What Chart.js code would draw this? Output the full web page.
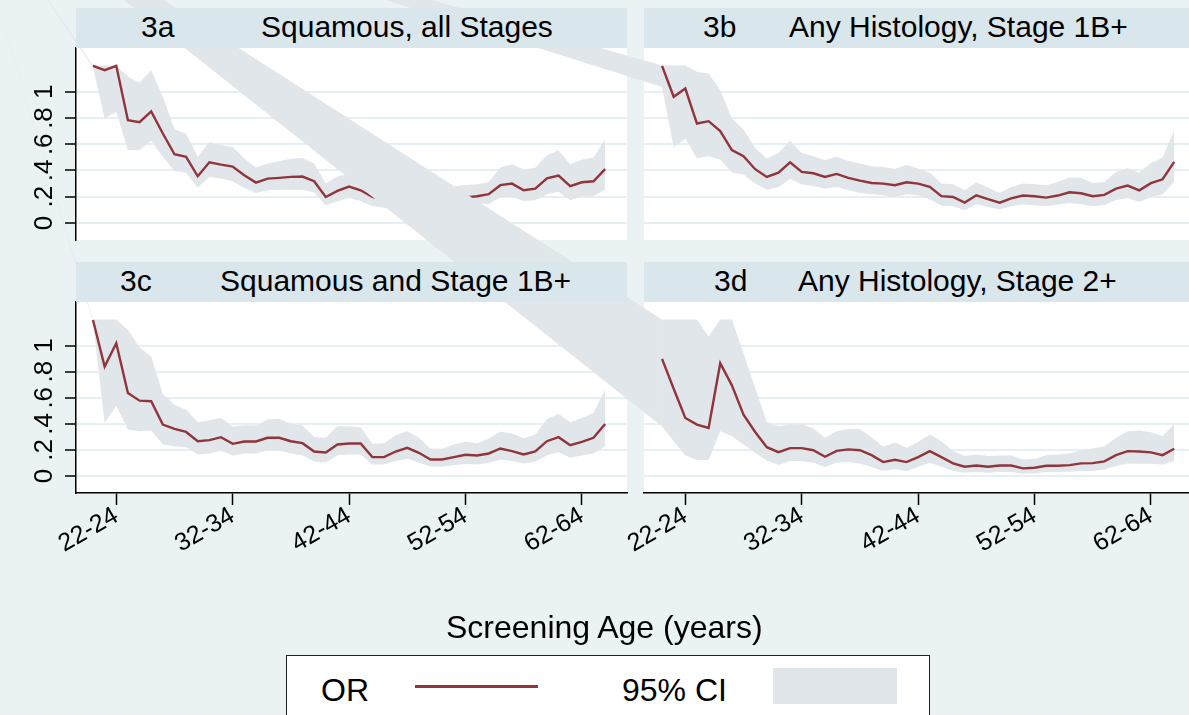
<!DOCTYPE html>
<html>
<head>
<meta charset="utf-8">
<title>Screening age OR panels</title>
<script src="https://cdn.jsdelivr.net/npm/chart.js@4.4.1/dist/chart.umd.min.js"></script>
<style>
  body { margin: 0; background: #eaf2f3; font-family: "Liberation Sans", Arial, sans-serif; }
  #fig { position: relative; width: 1189px; height: 715px; overflow: hidden; background: #eaf2f3; }
  #fig canvas { position: absolute; left: 0; top: 0; }
  .bar { position: absolute; height: 40px; background: #d9e6eb; z-index: 10; }
  .bar span { position: absolute; top: 0; line-height: 38px; font-size: 30px; color: #000; white-space: nowrap; }
  .txt { position: absolute; color: #000; white-space: nowrap; z-index: 10; }
  #legend { position: absolute; left: 286px; top: 655px; width: 642px; height: 80px; background: #fff; border: 1.5px solid #222; z-index: 10; }
</style>
</head>
<body>
<div id="fig">
  <canvas id="c3a" width="1189" height="715"></canvas>
  <canvas id="c3b" width="1189" height="715"></canvas>
  <canvas id="c3c" width="1189" height="715"></canvas>
  <canvas id="c3d" width="1189" height="715"></canvas>

  <div class="bar" style="left:76px; top:8px; width:551px;"><span style="left:65px">3a</span><span style="left:185px">Squamous, all Stages</span></div>
  <div class="bar" style="left:644px; top:8px; width:545px;"><span style="left:59px">3b</span><span style="left:145px">Any Histology, Stage 1B+</span></div>
  <div class="bar" style="left:76px; top:262px; width:551px;"><span style="left:44px">3c</span><span style="left:144px">Squamous and Stage 1B+</span></div>
  <div class="bar" style="left:644px; top:262px; width:545px;"><span style="left:70px">3d</span><span style="left:154px">Any Histology, Stage 2+</span></div>

  <div class="txt" style="left:446px; top:607px; font-size:32px; line-height:40px;">Screening Age (years)</div>

  <div id="legend">
    <div class="txt" style="left:34px; top:14px; font-size:32px; line-height:40px;">OR</div>
    <div style="position:absolute; left:128px; top:29px; width:123px; height:3px; background:#90353b;"></div>
    <div class="txt" style="left:335px; top:14px; font-size:32px; line-height:40px;">95% CI</div>
    <div style="position:absolute; left:486px; top:12px; width:124px; height:36px; background:#e1e6eb;"></div>
  </div>
</div>

<script>
// Age groups (3-year windows), x tick positions and y ticks
const ageGroups = ["20-22","21-23","22-24","23-25","24-26","25-27","26-28","27-29","28-30","29-31",
  "30-32","31-33","32-34","33-35","34-36","35-37","36-38","37-39","38-40","39-41",
  "40-42","41-43","42-44","43-45","44-46","45-47","46-48","47-49","48-50","49-51",
  "50-52","51-53","52-54","53-55","54-56","55-57","56-58","57-59","58-60","59-61",
  "60-62","61-63","62-64","63-65","64-66"];
const xTickIdx = [2, 12, 22, 32, 42];
const yTickValues = [0, 0.2, 0.4, 0.6, 0.8, 1];
const yTickLabels = ["0", ".2", ".4", ".6", ".8", "1"];

// 3a Squamous, all Stages
const or3a = [1.198,1.165,1.198,0.784,0.768,0.850,0.682,0.524,0.504,0.356,
  0.463,0.445,0.430,0.364,0.308,0.338,0.344,0.351,0.354,0.318,
  0.198,0.244,0.277,0.249,0.198,0.175,0.165,0.170,0.175,0.165,
  0.175,0.185,0.195,0.204,0.219,0.288,0.300,0.249,0.262,0.341,
  0.361,0.280,0.310,0.318,0.410];
const hi3a = [1.2,1.2,1.2,1.115,1.069,1.165,0.962,0.712,0.682,0.504,
  0.618,0.593,0.580,0.491,0.422,0.453,0.471,0.489,0.496,0.453,
  0.300,0.356,0.371,0.360,0.320,0.27,0.26,0.27,0.27,0.26,
  0.27,0.28,0.29,0.295,0.313,0.422,0.448,0.407,0.420,0.517,
  0.555,0.445,0.483,0.499,0.639];
const lo3a = [1.185,0.796,0.847,0.555,0.555,0.626,0.504,0.397,0.382,0.270,
  0.351,0.338,0.318,0.267,0.229,0.249,0.254,0.254,0.254,0.232,
  0.135,0.165,0.191,0.168,0.130,0.115,0.105,0.110,0.115,0.105,
  0.115,0.120,0.130,0.148,0.142,0.196,0.198,0.168,0.173,0.219,
  0.237,0.173,0.204,0.206,0.254];

// 3b Any Histology, Stage 1B+
const or3b = [1.198,0.962,1.025,0.758,0.776,0.700,0.555,0.509,0.410,0.351,
  0.384,0.463,0.389,0.379,0.351,0.374,0.344,0.323,0.305,0.300,
  0.288,0.310,0.300,0.275,0.204,0.198,0.155,0.211,0.181,0.155,
  0.188,0.209,0.204,0.193,0.209,0.234,0.226,0.204,0.214,0.262,
  0.285,0.249,0.303,0.333,0.466];
const hi3b = [1.2,1.2,1.2,1.153,1.140,1.013,0.796,0.712,0.573,0.491,
  0.534,0.626,0.534,0.509,0.478,0.504,0.473,0.453,0.433,0.427,
  0.412,0.443,0.415,0.382,0.300,0.295,0.249,0.310,0.270,0.229,
  0.275,0.300,0.295,0.288,0.313,0.346,0.344,0.305,0.313,0.389,
  0.417,0.382,0.458,0.499,0.707];
const lo3b = [1.036,0.575,0.644,0.491,0.509,0.483,0.384,0.369,0.300,0.254,
  0.275,0.336,0.293,0.282,0.262,0.275,0.249,0.229,0.219,0.211,
  0.198,0.219,0.211,0.181,0.132,0.127,0.097,0.142,0.122,0.102,
  0.127,0.140,0.135,0.127,0.140,0.153,0.142,0.127,0.137,0.173,
  0.191,0.160,0.198,0.219,0.313];

// 3c Squamous and Stage 1B+
const or3c = [1.196,0.840,1.018,0.636,0.578,0.573,0.394,0.361,0.338,0.267,
  0.275,0.298,0.247,0.265,0.265,0.293,0.293,0.267,0.252,0.188,
  0.181,0.242,0.249,0.249,0.145,0.145,0.188,0.216,0.178,0.127,
  0.127,0.145,0.163,0.158,0.173,0.211,0.191,0.165,0.188,0.267,
  0.298,0.237,0.262,0.293,0.399];
const hi3c = [1.2,1.2,1.2,1.12,0.985,0.916,0.628,0.547,0.509,0.412,
  0.427,0.445,0.379,0.389,0.387,0.433,0.440,0.399,0.387,0.300,
  0.293,0.382,0.379,0.374,0.247,0.252,0.313,0.344,0.293,0.211,
  0.209,0.242,0.262,0.252,0.285,0.341,0.326,0.290,0.318,0.438,
  0.476,0.412,0.445,0.483,0.662];
const lo3c = [1.185,0.407,0.539,0.356,0.344,0.349,0.242,0.229,0.221,0.165,
  0.173,0.196,0.158,0.173,0.173,0.196,0.196,0.173,0.160,0.109,
  0.104,0.160,0.165,0.165,0.089,0.089,0.115,0.132,0.102,0.074,
  0.071,0.084,0.092,0.089,0.102,0.127,0.115,0.097,0.109,0.160,
  0.183,0.140,0.158,0.173,0.229];

// 3d Any Histology, Stage 2+
const or3d = [0.898,0.669,0.445,0.394,0.369,0.865,0.695,0.471,0.338,0.221,
  0.183,0.214,0.214,0.198,0.148,0.193,0.204,0.198,0.160,0.107,
  0.125,0.107,0.145,0.191,0.145,0.097,0.071,0.081,0.071,0.081,
  0.081,0.059,0.064,0.079,0.079,0.084,0.097,0.099,0.112,0.160,
  0.191,0.188,0.181,0.160,0.209];
const hi3d = [1.2,1.2,1.2,1.2,1.069,1.2,1.2,0.941,0.674,0.415,
  0.382,0.394,0.399,0.364,0.293,0.344,0.361,0.361,0.298,0.224,
  0.257,0.216,0.260,0.318,0.267,0.191,0.153,0.165,0.153,0.158,
  0.160,0.127,0.132,0.160,0.165,0.173,0.198,0.211,0.229,0.293,
  0.344,0.349,0.336,0.305,0.399];
const lo3d = [0.38,0.267,0.158,0.122,0.122,0.344,0.305,0.242,0.178,0.120,
  0.084,0.115,0.115,0.102,0.069,0.102,0.107,0.097,0.069,0.038,
  0.053,0.038,0.069,0.102,0.071,0.038,0.025,0.031,0.025,0.031,
  0.031,0.018,0.020,0.031,0.031,0.033,0.038,0.038,0.051,0.076,
  0.097,0.094,0.094,0.089,0.115];

// the CI areas in the original run off to a stray point up-left of the figure
// (in each panel's own data units)
const strayX = [-11.77, -60.65, -11.77, -60.65];
const strayY = [2.73, 2.73, 4.67, 4.67];

const red = "#90353b";
const ciColor = "#e1e6eb";
const gridColor = "#e6eff2";

Chart.defaults.font.family = "'Liberation Sans', Arial, sans-serif";

// white plot region
const plotBg = {
  id: "plotBg",
  beforeDraw(chart) {
    const { ctx, chartArea: a } = chart;
    ctx.save();
    ctx.fillStyle = "#fff";
    ctx.fillRect(a.left, a.top, a.right - a.left, a.bottom - a.top);
    ctx.restore();
  }
};

// fill the stray polygon, unclipped, through the chart's scales
const strayFill = {
  id: "strayFill",
  afterDatasetDraw(chart, args) {
    const ds = chart.data.datasets[args.index];
    if (!ds.stray) return;
    const { ctx, scales } = chart;
    ctx.save();
    ctx.fillStyle = ds.backgroundColor;
    ctx.beginPath();
    ds.data.forEach((p, i) => {
      const px = scales.x.getPixelForValue(p.x);
      const py = scales.y.getPixelForValue(p.y);
      if (i === 0) ctx.moveTo(px, py); else ctx.lineTo(px, py);
    });
    ctx.closePath();
    ctx.fill();
    ctx.restore();
  }
};

function toPoints(arr) {
  return arr.map((v, i) => ({ x: i, y: v }));
}

function makePanel(canvasId, or, hi, lo, col, row, k) {
  const left = col === 0;
  const top = row === 0;
  return new Chart(document.getElementById(canvasId), {
    type: "line",
    data: {
      datasets: [
        { label: "OR", data: toPoints(or), borderColor: red, borderWidth: 2.4,
          pointRadius: 0, fill: false, tension: 0 },
        { label: "stray", stray: true, backgroundColor: ciColor, borderWidth: 0, pointRadius: 0, fill: false,
          data: [{ x: strayX[k], y: strayY[k] }, { x: 0, y: hi[0] }, { x: 0, y: lo[0] }] },
        { label: "upper", data: toPoints(hi), borderWidth: 0, pointRadius: 0, fill: false },
        { label: "95% CI", data: toPoints(lo), borderWidth: 0, pointRadius: 0,
          fill: "-1", backgroundColor: ciColor }
      ]
    },
    options: {
      responsive: false,
      animation: false,
      events: [],
      layout: {
        padding: {
          left: left ? 0 : 644,
          right: left ? 1189 - 627 : 0,
          top: top ? 48 : 302,
          bottom: top ? 715 - 240 : 715 - 493 - 80
        }
      },
      plugins: {
        legend: { display: false },
        tooltip: { enabled: false }
      },
      scales: {
        x: {
          type: "linear",
          min: left ? -1.46 : -1.55,
          max: left ? 45.88 : 45.27,
          display: !top,
          afterBuildTicks: s => { s.ticks = xTickIdx.map(v => ({ value: v })); },
          afterFit: s => { s.height = top ? 0 : 80; },
          border: { color: "#000", width: 1.5 },
          grid: { drawOnChartArea: false, tickLength: 12, tickColor: "#000", tickWidth: 1.5 },
          ticks: {
            autoSkip: false, minRotation: 30, maxRotation: 30, padding: -4,
            color: "#000", font: { size: 25 },
            callback: v => ageGroups[v]
          }
        },
        y: {
          min: -0.13,
          max: 1.334,
          afterBuildTicks: s => { s.ticks = yTickValues.map(v => ({ value: v })); },
          afterFit: s => { s.width = left ? 76 : 0; },
          border: { display: left, color: "#000", width: 1.5 },
          grid: { color: gridColor, lineWidth: 2, drawTicks: left, tickLength: 11,
                  tickColor: "#000", tickWidth: 1.5 },
          ticks: {
            display: left, autoSkip: false, minRotation: 90, maxRotation: 90,
            crossAlign: "center", padding: 9, color: "#000", font: { size: 26 },
            callback: (v, i) => yTickLabels[i]
          }
        }
      }
    },
    plugins: [plotBg, strayFill]
  });
}

makePanel("c3a", or3a, hi3a, lo3a, 0, 0, 0);
makePanel("c3b", or3b, hi3b, lo3b, 1, 0, 1);
makePanel("c3c", or3c, hi3c, lo3c, 0, 1, 2);
makePanel("c3d", or3d, hi3d, lo3d, 1, 1, 3);
</script>
</body>
</html>
